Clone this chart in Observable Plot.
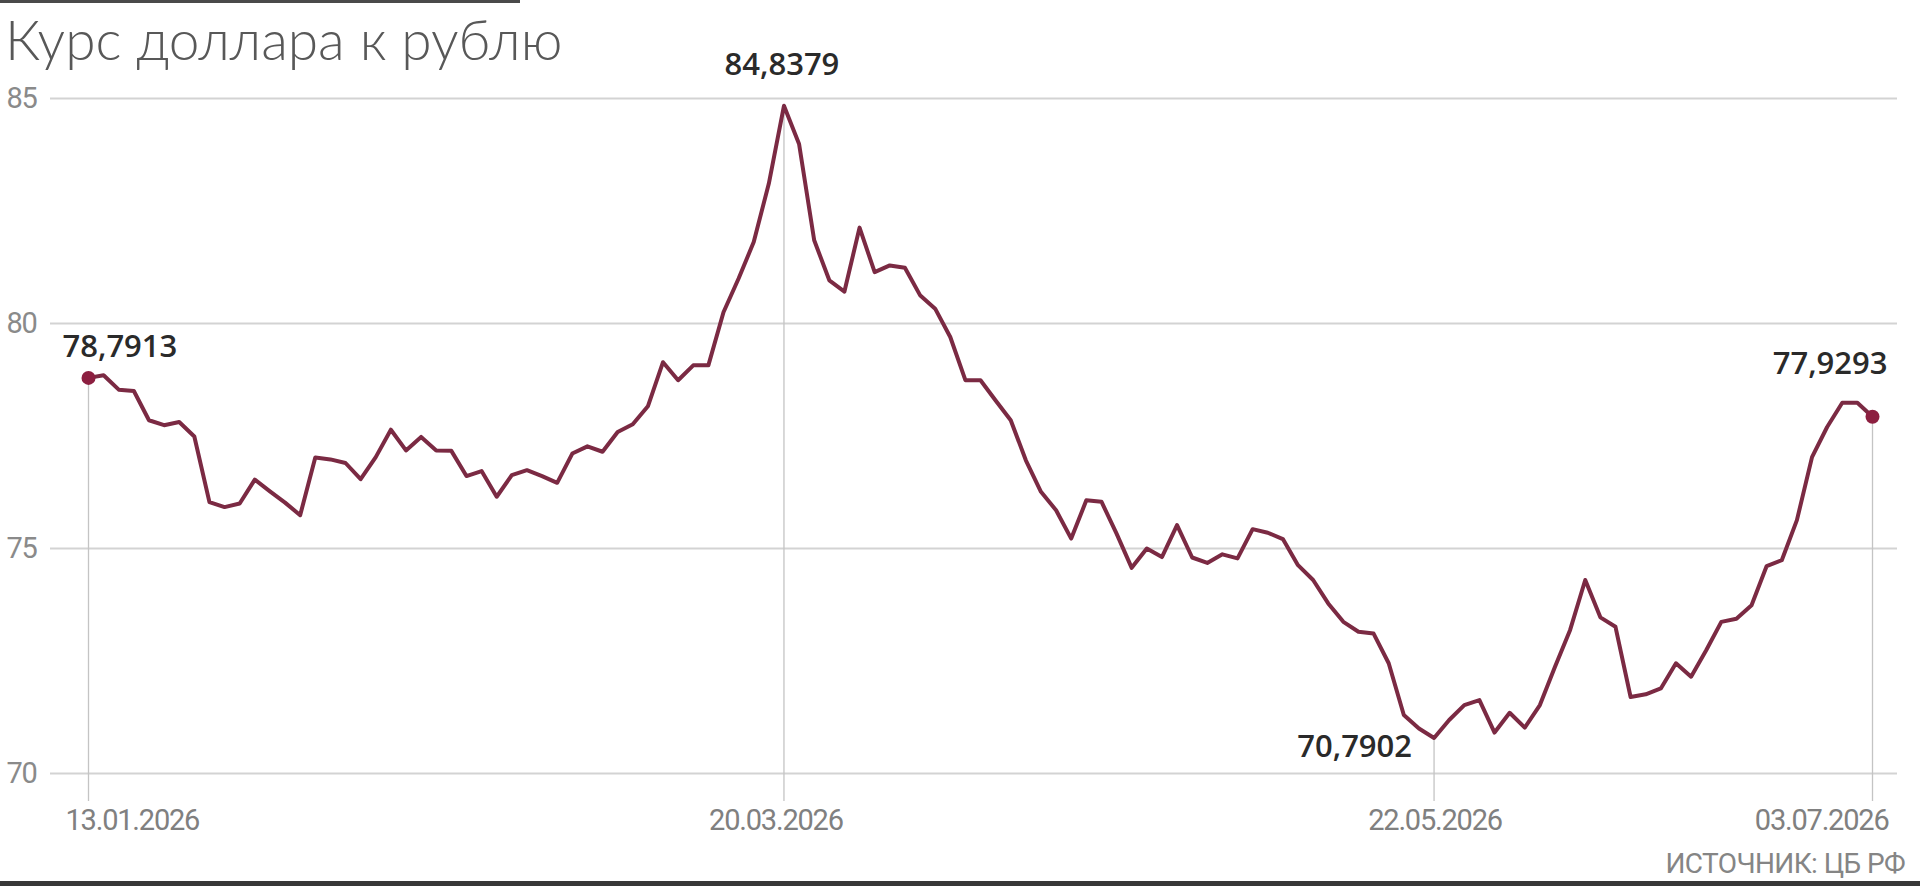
<!DOCTYPE html>
<html>
<head>
<meta charset="utf-8">
<script src="https://cdn.jsdelivr.net/npm/d3@7"></script>
<script src="https://cdn.jsdelivr.net/npm/@observablehq/plot@0.6"></script>
<style>
  html, body { margin: 0; padding: 0; background: #fff; }
  #wrap { position: relative; width: 1920px; height: 886px; overflow: hidden; background: #fff; }
  #title { position: absolute; left: 5px; top: 12px; font-family: Lato, "Open Sans", sans-serif; font-weight: 300; font-size: 55px; line-height: 55px; color: #585858; white-space: nowrap; z-index: 2; }
  #chart { position: absolute; left: 0; top: 0; }
  #source { position: absolute; right: 15px; top: 848px; font-family: Roboto, "Liberation Sans", sans-serif; font-size: 28px; line-height: 32px; letter-spacing: -0.6px; color: #858585; white-space: nowrap; }
  #topbar { position: absolute; left: 0; top: 0; width: 520px; height: 3px; background: #4a4a4a; }
  #bottombar { position: absolute; left: 0; top: 881px; width: 1920px; height: 5px; background: #383838; }
  g[font-family^="Roboto"] text { letter-spacing: -1.2px; }
</style>
</head>
<body>
<div id="wrap">
  <div id="topbar"></div>
  <div id="chart"></div>
  <div id="title">Курс доллара к рублю</div>
  <div id="source">ИСТОЧНИК: ЦБ РФ</div>
  <div id="bottombar"></div>
</div>
<script>
// Official USD/RUB rate, consecutive fixing days (13.01.2026 … 03.07.2026)
const values = [
  78.7913, 78.85, 78.53, 78.50, 77.85, 77.74, 77.81, 77.49, 76.03, 75.92,
  76.00, 76.53, 76.27, 76.02, 75.74, 77.02, 76.98, 76.90, 76.54, 77.03,
  77.64, 77.18, 77.48, 77.18, 77.17, 76.61, 76.72, 76.15, 76.63, 76.74,
  76.61, 76.46, 77.11, 77.27, 77.15, 77.59, 77.76, 78.16, 79.14, 78.74,
  79.07, 79.07, 80.25, 81.00, 81.81, 83.11, 84.8379, 83.99, 81.85, 80.96,
  80.71, 82.13, 81.14, 81.29, 81.24, 80.63, 80.33, 79.70, 78.74, 78.74,
  78.29, 77.85, 76.96, 76.26, 75.85, 75.22, 76.07, 76.04, 75.33, 74.57,
  75.00, 74.81, 75.52, 74.80, 74.68, 74.87, 74.78, 75.43, 75.35, 75.21,
  74.63, 74.30, 73.78, 73.37, 73.15, 73.11, 72.45, 71.30, 71.00, 70.7902,
  71.19, 71.52, 71.63, 70.91, 71.35, 71.02, 71.52, 72.37, 73.19, 74.30,
  73.47, 73.26, 71.70, 71.76, 71.89, 72.45, 72.15, 72.74, 73.37, 73.44,
  73.74, 74.61, 74.74, 75.63, 77.03, 77.70, 78.24, 78.24, 77.9293
];
const keyIndex = [0, 46, 89, 118];
const keyDates = ["13.01.2026", "20.03.2026", "22.05.2026", "03.07.2026"];
const yTicks = [70, 75, 80, 85];

const data = values.map((v, i) => ({i, v}));
const keys = keyIndex.map((k, j) => ({
  i: k, v: values[k], date: keyDates[j],
  label: values[k].toFixed(4).replace(".", ",")
}));

const lightFont = "Roboto, 'Liberation Sans', sans-serif";
const numFont = "'Open Sans','Noto Sans',sans-serif";
const lineColor = "#7b2a43";

const valueText = (d, opts) => Plot.text([d], {
  x: "i", y: "v", text: "label", fontSize: 31, fontWeight: 600,
  fontFamily: numFont, fill: "#2a2a2a", lineAnchor: "middle", ...opts
});
const dateText = (d, opts) => Plot.text([d], {
  x: "i", y: 70, text: "date", fontSize: 29, fontFamily: lightFont,
  fill: "#808080", lineAnchor: "middle", dy: 47, ...opts
});

const chart = Plot.plot({
  width: 1920,
  height: 845,
  marginTop: 98,
  marginBottom: 72,
  marginLeft: 50,
  marginRight: 23,
  style: {background: "transparent", overflow: "visible"},
  x: {domain: [0, values.length - 1], insetLeft: 38, insetRight: 25, axis: null, label: null},
  y: {domain: [70, 85], axis: null, label: null},
  marks: [
    Plot.ruleY(yTicks, {stroke: "#d3d3d3", strokeWidth: 2}),
    Plot.text(yTicks, {
      y: d => d, text: d => String(d), frameAnchor: "left", textAnchor: "start",
      dx: -44, fontSize: 29, fontFamily: lightFont, fill: "#8a8a8a"
    }),
    Plot.axisX({
      ticks: keyIndex, tickSize: 28, tickFormat: () => "", label: null,
      stroke: "#c4c4c4", strokeWidth: 1.3
    }),
    Plot.ruleX(keys, {x: "i", y1: "v", y2: 70, stroke: "#c4c4c4", strokeWidth: 1.3}),
    Plot.line(data, {x: "i", y: "v", stroke: lineColor, strokeWidth: 4, strokeLinejoin: "round"}),
    Plot.dot([keys[0], keys[3]], {x: "i", y: "v", r: 7, fill: "#8c1f40", stroke: null}),
    valueText(keys[0], {textAnchor: "start", dx: -26, dy: -31}),
    valueText(keys[1], {textAnchor: "middle", dx: -2, dy: -41}),
    valueText(keys[2], {textAnchor: "end", dx: -22, dy: 9}),
    valueText(keys[3], {textAnchor: "end", dx: 15, dy: -53}),
    dateText(keys[0], {textAnchor: "start", dx: -23}),
    dateText(keys[1], {textAnchor: "middle", dx: -8}),
    dateText(keys[2], {textAnchor: "middle", dx: 1}),
    dateText(keys[3], {textAnchor: "end", dx: 16})
  ]
});
document.getElementById("chart").appendChild(chart);
</script>
</body>
</html>
